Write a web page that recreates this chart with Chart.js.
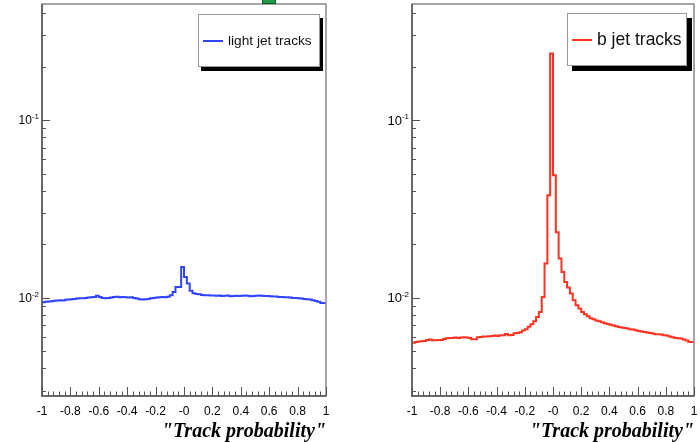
<!DOCTYPE html>
<html>
<head>
<meta charset="utf-8">
<script src="https://cdn.jsdelivr.net/npm/chart.js@4.4.1/dist/chart.umd.min.js"></script>
<style>
  html, body { margin: 0; padding: 0; background: #fff; }
  body { width: 700px; height: 442px; position: relative; overflow: hidden; font-family: 'Liberation Sans', Arial, sans-serif; }
  canvas { position: absolute; top: 0; }
  .legend { position: absolute; box-sizing: border-box; background: #fff; border: 1px solid #999;
            display: flex; align-items: center; color: #111; white-space: nowrap; }
  .swatch { display: inline-block; width: 20px; height: 2px; }
  .mark { position: absolute; left: 262px; top: -1px; width: 14px; height: 5px; background: #1f9a46; border: 1px solid #0b5a25; box-sizing: border-box; }
</style>
</head>
<body>
<canvas id="lightChart" width="350" height="442" style="left:0"></canvas>
<canvas id="bChart" width="350" height="442" style="left:350px"></canvas>
<div class="mark"></div>
<div class="legend" style="left:198px;top:14px;width:122px;height:53px;padding-left:4px;box-shadow:3px 4px 0 #000">
  <span class="swatch" style="background:#3344ff;margin-right:5px"></span><span style="font-size:13.7px">light jet tracks</span>
</div>
<div class="legend" style="left:567px;top:13px;width:120px;height:53px;padding-left:4px;box-shadow:5px 5px 0 #000">
  <span class="swatch" style="background:#ff3322;margin-right:5px"></span><span style="font-size:17.5px">b jet tracks</span>
</div>
<script>
// histogram binning: 100 bins of 0.02 from -1 to 1
const binWidth = 0.02;
const xRange = [-1, 1];
const xTickValues = [-1, -0.8, -0.6, -0.4, -0.2, 0, 0.2, 0.4, 0.6, 0.8, 1];
const xTickLabels = ['-1', '-0.8', '-0.6', '-0.4', '-0.2', '-0', '0.2', '0.4', '0.6', '0.8', '1'];
const yTickValues = [0.01, 0.1];
const yTickExponents = ['-2', '-1'];
const yRange = [0.0028, 0.45];

const lightJetTracks = [
  0.00935, 0.00943, 0.00949, 0.00952, 0.00956, 0.00962, 0.00964, 0.00968, 0.00964, 0.00974,
  0.00977, 0.00981, 0.00984, 0.00990, 0.00994, 0.00994, 0.00997, 0.01003, 0.01006, 0.01010,
  0.01026, 0.01010, 0.00997, 0.00994, 0.00997, 0.01003, 0.01010, 0.01013, 0.01006, 0.01010,
  0.01006, 0.01003, 0.01006, 0.00997, 0.00990, 0.00981, 0.00977, 0.00981, 0.00984, 0.00994,
  0.00997, 0.01003, 0.01006, 0.01010, 0.01006, 0.01013, 0.01033, 0.01078, 0.01150, 0.01150,
  0.01491, 0.01309, 0.01202, 0.01095, 0.01060, 0.01050, 0.01046, 0.01037, 0.01033, 0.01033,
  0.01029, 0.01029, 0.01026, 0.01029, 0.01024, 0.01026, 0.01029, 0.01020, 0.01024, 0.01026,
  0.01024, 0.01026, 0.01029, 0.01026, 0.01020, 0.01024, 0.01026, 0.01029, 0.01026, 0.01024,
  0.01024, 0.01020, 0.01016, 0.01016, 0.01010, 0.01010, 0.01006, 0.01006, 0.01003, 0.00997,
  0.00997, 0.00994, 0.00990, 0.00984, 0.00981, 0.00977, 0.00968, 0.00959, 0.00949, 0.00935
];

const bJetTracks = [
  0.00557, 0.00559, 0.00564, 0.00567, 0.00569, 0.00571, 0.00579, 0.00582, 0.00576, 0.00576,
  0.00579, 0.00579, 0.00586, 0.00592, 0.00594, 0.00594, 0.00597, 0.00594, 0.00597, 0.00599,
  0.00597, 0.00594, 0.00584, 0.00584, 0.00599, 0.00602, 0.00605, 0.00605, 0.00607, 0.00609,
  0.00613, 0.00609, 0.00615, 0.00615, 0.00625, 0.00615, 0.00617, 0.00631, 0.00634, 0.00639,
  0.00654, 0.00665, 0.00687, 0.00709, 0.00737, 0.00780, 0.00832, 0.01010, 0.01558, 0.03778,
  0.2372, 0.04896, 0.02338, 0.01663, 0.01397, 0.01228, 0.01142, 0.01056, 0.00968, 0.00907,
  0.00869, 0.00832, 0.00808, 0.00787, 0.00767, 0.00757, 0.00744, 0.00737, 0.00728, 0.00719,
  0.00712, 0.00705, 0.00697, 0.00691, 0.00685, 0.00680, 0.00676, 0.00671, 0.00665, 0.00662,
  0.00656, 0.00650, 0.00645, 0.00642, 0.00637, 0.00634, 0.00629, 0.00623, 0.00623, 0.00621,
  0.00615, 0.00613, 0.00605, 0.00599, 0.00594, 0.00592, 0.00589, 0.00582, 0.00574, 0.00564
];

// one point per left bin edge, plus the closing right edge
function histPoints(values) {
  const pts = values.map((v, i) => ({ x: xRange[0] + i * binWidth, y: v }));
  pts.push({ x: xRange[1], y: values[values.length - 1] });
  return pts;
}

// ROOT style frame, inward ticks and 10^n labels
const rootFrame = {
  id: 'rootFrame',
  afterDatasetsDraw(chart, args, opts) {
    const { ctx, chartArea: a, scales: { x, y } } = chart;
    ctx.save();
    ctx.strokeStyle = '#8a8a8a';
    ctx.lineWidth = 1.5;
    ctx.strokeRect(a.left, a.top, a.right - a.left, a.bottom - a.top);
    ctx.strokeStyle = '#555';
    ctx.beginPath();
    ctx.moveTo(a.left, a.top);
    ctx.lineTo(a.left, a.bottom);
    ctx.lineTo(a.right, a.bottom);
    ctx.stroke();

    ctx.lineWidth = 1;
    ctx.beginPath();
    for (let i = 0; i <= 50; i++) {
      const px = Math.round(x.getPixelForValue(xRange[0] + i * 0.04)) + 0.5;
      const len = i % 5 === 0 ? 9 : 4.5;
      ctx.moveTo(px, a.bottom);
      ctx.lineTo(px, a.bottom - len);
    }
    for (const decade of [0.001, 0.01, 0.1]) {
      for (let m = 1; m <= 9; m++) {
        const v = m * decade;
        if (v < yRange[0] || v > yRange[1]) continue;
        const py = Math.round(y.getPixelForValue(v)) + 0.5;
        ctx.moveTo(a.left, py);
        ctx.lineTo(a.left + (m === 1 ? 8 : 4), py);
      }
    }
    ctx.stroke();

    // y labels: "10" with a raised exponent
    const s = opts.labelSize;
    const expFont = `${Math.round(s * 0.65)}px "Liberation Sans"`;
    const baseFont = `${s}px "Liberation Sans"`;
    ctx.fillStyle = '#000';
    ctx.textBaseline = 'alphabetic';
    ctx.textAlign = 'left';
    yTickValues.forEach((v, i) => {
      const py = y.getPixelForValue(v);
      ctx.font = expFont;
      const expW = ctx.measureText(yTickExponents[i]).width;
      ctx.font = baseFont;
      const baseW = ctx.measureText('10').width;
      const right = a.left - 3;
      const base = py + s * 0.36;
      ctx.fillText('10', right - expW - baseW, base);
      ctx.font = expFont;
      ctx.fillText(yTickExponents[i], right - expW, base - s * 0.42);
    });
    ctx.restore();
  }
};

function makeChart(id, values, color, axisWidth, rightPad, yFontSize) {
  return new Chart(document.getElementById(id), {
    type: 'line',
    data: {
      datasets: [{
        data: histPoints(values),
        borderColor: color,
        borderWidth: 2,
        pointRadius: 0,
        stepped: 'after',
        fill: false
      }]
    },
    options: {
      responsive: false,
      animation: false,
      layout: { padding: { top: 4, right: rightPad, left: 0, bottom: 0 } },
      plugins: {
        legend: { display: false },
        tooltip: { enabled: false },
        rootFrame: { labelSize: yFontSize }
      },
      scales: {
        x: {
          type: 'linear',
          min: xRange[0],
          max: xRange[1],
          grid: { display: false, drawTicks: false },
          border: { display: false },
          afterBuildTicks: s => { s.ticks = xTickValues.map(v => ({ value: v })); },
          afterFit: s => { s.height = 46; s.paddingLeft = 0; s.paddingRight = 0; },
          ticks: {
            autoSkip: false,
            maxRotation: 0,
            padding: 8,
            color: '#000',
            font: { family: 'Liberation Sans', size: 12 },
            callback: (v, i) => xTickLabels[i]
          },
          title: {
            display: true,
            text: '"Track probability"',
            align: 'end',
            color: '#000',
            padding: 0,
            font: { family: 'Liberation Serif', size: 20, style: 'italic', weight: 'bold', lineHeight: 1 }
          }
        },
        y: {
          type: 'logarithmic',
          min: yRange[0],
          max: yRange[1],
          grid: { display: false, drawTicks: false },
          border: { display: false },
          afterBuildTicks: s => { s.ticks = yTickValues.map(v => ({ value: v })); },
          afterFit: s => { s.width = axisWidth; s.paddingTop = 0; s.paddingBottom = 0; },
          ticks: { display: false }
        }
      }
    },
    plugins: [rootFrame]
  });
}

makeChart('lightChart', lightJetTracks, '#3344ff', 42, 24, 12);
makeChart('bChart', bJetTracks, '#ff3322', 62, 6, 13);
</script>
</body>
</html>
